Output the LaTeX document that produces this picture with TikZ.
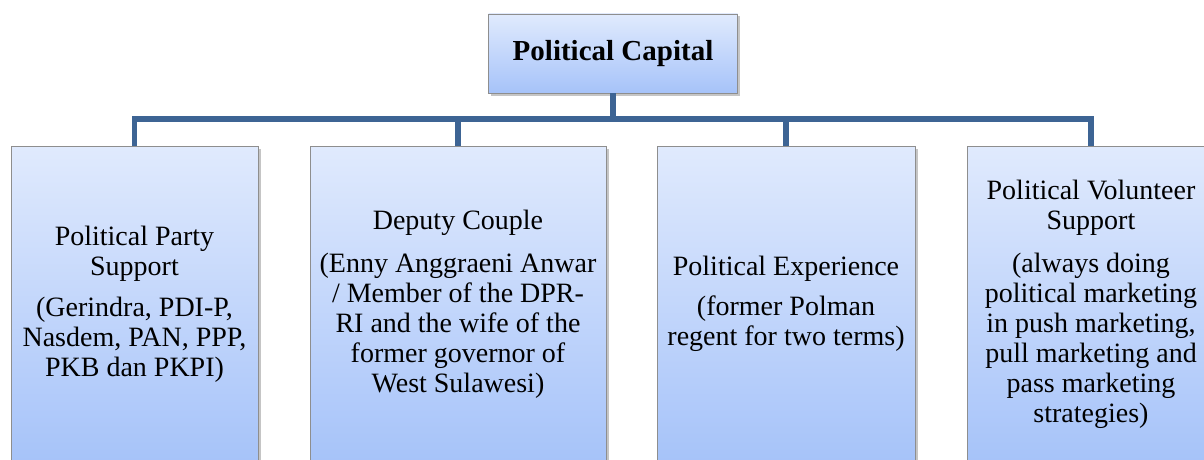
\documentclass[tikz,border=0pt]{standalone}
\usepackage{fontspec}
\setmainfont{Liberation Serif}
\usetikzlibrary{shadows}

\definecolor{boxtop}{HTML}{E0EAFD}
\definecolor{boxbot}{HTML}{A6C3F9}
\definecolor{boxline}{HTML}{8E8E8E}
\definecolor{linkblue}{HTML}{3D6494}

\begin{document}
\begin{tikzpicture}[
		x=1pt, y=-1pt,
		box/.style={draw=boxline, line width=0.8pt, top color=boxtop, bottom color=boxbot,
			inner sep=0pt, align=center, font=\fontsize{28}{30}\selectfont,
			drop shadow={shadow xshift=2.5pt, shadow yshift=-2.5pt, fill=black!45, opacity=0.5}},
		link/.style={draw=linkblue, line width=5.5pt}
	]
		\clip (0,0) rectangle (1204,460);

		% root
		\node[box, minimum width=249pt, minimum height=79pt, font=\fontsize{29}{31}\selectfont\bfseries]
			(cap) at (613,53.5) {Political Capital};

		% the four kinds of capital, running off the bottom edge
		\node[box, minimum width=247pt, minimum height=316pt] (party) at (134.5,304)
			{Political Party\\Support\\[11pt](Gerindra, PDI-P,\\Nasdem, PAN, PPP,\\PKB dan PKPI)};
		\node[box, minimum width=296pt, minimum height=316pt] (couple) at (458,304)
			{Deputy Couple\\[13pt](Enny Anggraeni Anwar\\/ Member of the DPR-\\RI and the wife of the\\former governor of\\West Sulawesi)};
		\node[box, minimum width=258pt, minimum height=316pt] (exper) at (786,304)
			{Political Experience\\[10pt](former Polman\\regent for two terms)};
		\node[box, minimum width=248pt, minimum height=316pt] (volun) at (1091,304)
			{Political Volunteer\\Support\\[13pt](always doing\\political marketing\\in push marketing,\\pull marketing and\\pass marketing\\strategies)};

		% tree links
		\coordinate (bus) at (613,119);
		\draw[link] (cap.south) -- (bus);
		\foreach \n in {party, couple, exper, volun}
			\draw[link] (bus) -| (\n.north);
\end{tikzpicture}
\end{document}
